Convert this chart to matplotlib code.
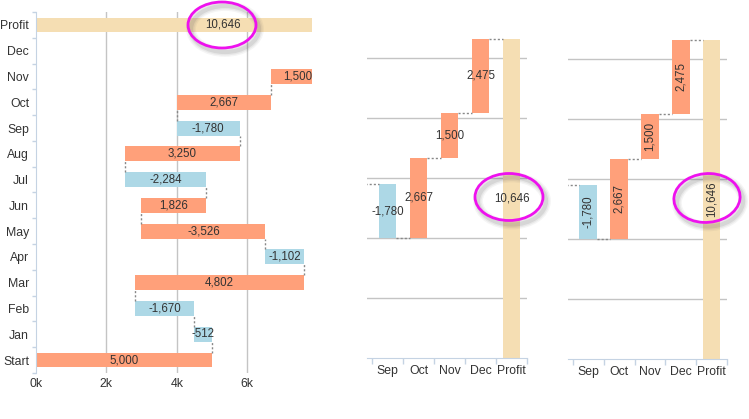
import matplotlib
matplotlib.use("Agg")
import matplotlib.pyplot as plt
from matplotlib.patches import Ellipse
import numpy as np

# ---------------- data ----------------
months = ["Jan", "Feb", "Mar", "Apr", "May", "Jun", "Jul", "Aug",
          "Sep", "Oct", "Nov", "Dec"]
start_value = 5000
changes = [-512, -1670, 4802, -1102, -3526, 1826, -2284, 3250,
           -1780, 2667, 1500, 2475]
profit_value = 10646
right_months = ["Sep", "Oct", "Nov", "Dec"]
left_xticks = [0, 2000, 4000, 6000]
left_xticklabels = ["0k", "2k", "4k", "6k"]

# ---------------- style ----------------
ORANGE = "#FFA07A"
BLUE = "#ADD8E6"
WHEAT = "#F5DEB3"
GRID = "#c4c4c4"
SPINE = "#c5d3e3"
TXT = "#333333"
CONN = "#888888"
# observed bar colours (Start, Jan..Dec)
left_colors = [ORANGE, BLUE, BLUE, ORANGE, BLUE, ORANGE, ORANGE, BLUE,
               ORANGE, BLUE, ORANGE, ORANGE, ORANGE]

plt.rcParams["font.family"] = ["Liberation Sans", "DejaVu Sans"]

W, H = 749, 419
fig = plt.figure(figsize=(W / 100, H / 100), dpi=100)

def rect(l, r, t, b):
    return [l / W, 1 - b / H, (r - l) / W, (b - t) / H]

def fmt(v):
    return f"{v:,}"

LBL = 8.3

# cumulative
labels_all = ["Start"] + months
vals_all = [start_value] + changes
ends = list(np.cumsum(vals_all))
starts = [0] + ends[:-1]

# ---------------- left: horizontal waterfall ----------------
ax1 = fig.add_axes(rect(36, 312, 12.1, 372.9))
bh = 0.58
XMAX = 7840
rows = labels_all + ["Profit"]
for i, (s, e) in enumerate(zip(starts, ends)):
    ax1.barh(i, e - s, left=s, height=bh, color=left_colors[i], zorder=2)
    ax1.text((s + e) / 2, i, fmt(vals_all[i]), ha="center", va="center",
             fontsize=LBL, color=TXT, zorder=4, clip_on=True)
pi = len(rows) - 1
ax1.barh(pi, profit_value, left=0, height=bh, color=WHEAT, zorder=2)
ax1.text(profit_value / 2, pi, fmt(profit_value), ha="center", va="center",
         fontsize=LBL, color=TXT, zorder=4, clip_on=True)
# connectors
for i in range(len(ends)):
    x = ends[i]
    ax1.plot([x, x], [i + bh / 2, i + 1 - bh / 2], ls=(0, (1.5, 1.5)),
             color=CONN, lw=1, zorder=3)
ax1.set_xlim(0, XMAX)
ax1.set_ylim(-0.5, len(rows) - 0.5)
ax1.set_xticks(left_xticks)
ax1.set_xticklabels(left_xticklabels)
ax1.set_yticks(range(len(rows)))
ax1.set_yticklabels(rows)
ax1.set_yticks(np.arange(-0.5, len(rows), 1), minor=True)
ax1.tick_params(axis="y", which="major", length=0, pad=5, labelsize=8.8,
                labelcolor=TXT)
ax1.tick_params(axis="y", which="minor", length=3, color=SPINE, width=1)
ax1.tick_params(axis="x", length=0, pad=4, labelsize=8.8, labelcolor=TXT)
for g in left_xticks[1:]:
    ax1.axvline(g, color=GRID, lw=1, zorder=1)
for sp in ["top", "right", "bottom"]:
    ax1.spines[sp].set_visible(False)
ax1.spines["left"].set_color(SPINE)

# ---------------- right: vertical waterfalls ----------------
def vertical(ax, rotate):
    bw = 0.575
    for j, m in enumerate(right_months):
        k = months.index(m) + 1
        s, e = starts[k], ends[k]
        col = left_colors[k]
        ax.bar(j, e - s, bottom=s, width=bw, color=col, zorder=2)
        ax.text(j, (s + e) / 2, fmt(vals_all[k]), ha="center", va="center",
                fontsize=LBL, color=TXT, rotation=90 if rotate else 0, zorder=4)
        # connector from previous bar
        ax.plot([j - 1 + bw / 2, j - bw / 2], [s, s], ls=(0, (1.5, 1.5)),
                color=CONN, lw=1, zorder=3, clip_on=False if j > 0 else True)
    pj = len(right_months)
    ax.bar(pj, profit_value, bottom=0, width=bw, color=WHEAT, zorder=2)
    ax.text(pj, profit_value / 2, fmt(profit_value), ha="center", va="center",
            fontsize=LBL, color=TXT, rotation=90 if rotate else 0, zorder=4)
    ax.plot([pj - 1 + bw / 2, pj - bw / 2], [profit_value, profit_value],
            ls=(0, (1.5, 1.5)), color=CONN, lw=1, zorder=3, clip_on=False)
    ax.set_xlim(-0.66, pj + 0.5)
    ax.set_ylim(0, 10800)
    for g in [2000, 4000, 6000, 8000, 10000]:
        ax.axhline(g, color=GRID, lw=1, zorder=1)
    ax.set_yticks([])
    ax.set_xticks(range(pj + 1))
    ax.set_xticklabels(right_months + ["Profit"])
    ax.set_xticks(np.arange(-0.5, pj + 1, 1), minor=True)
    ax.tick_params(axis="x", which="major", length=0, pad=5, labelsize=8.8,
                   labelcolor=TXT)
    ax.tick_params(axis="x", which="minor", length=4, color=SPINE, width=1)
    for sp in ["top", "right", "left"]:
        ax.spines[sp].set_visible(False)
    ax.spines["bottom"].set_color(SPINE)

ax2 = fig.add_axes(rect(367, 527, 34, 358))
vertical(ax2, False)
ax3 = fig.add_axes(rect(568, 727, 35, 359))
vertical(ax3, True)

# ---------------- highlight ellipses ----------------
def ring(cx, cy, w, h, ang):
    for lw, a in [(7, 0.06), (5, 0.08), (3, 0.12)]:
        e = Ellipse(((cx + 3) / W, 1 - (cy + 4) / H), w / W, h / H, angle=ang,
                    fill=False, ec="#555555", lw=lw, alpha=a,
                    transform=fig.transFigure)
        fig.add_artist(e)
    e = Ellipse((cx / W, 1 - cy / H), w / W, h / H, angle=ang, fill=False,
                ec="#ee11ee", lw=2, transform=fig.transFigure)
    fig.add_artist(e)

ring(222, 25, 68, 46, 0)
ring(509, 197, 68, 47, 0)
ring(707, 198, 66, 49, -5)

fig.savefig("out.png", dpi=100)
